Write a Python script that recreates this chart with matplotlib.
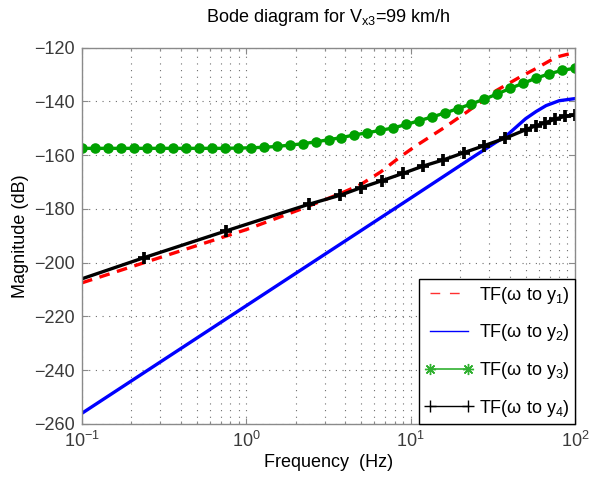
import matplotlib
matplotlib.use("Agg")
import matplotlib.pyplot as plt
from matplotlib.lines import Line2D
from matplotlib.ticker import LogLocator, NullFormatter

# -------------------------------------------------------------------
# DATA
# -------------------------------------------------------------------

# TF(w to y1), red dashed
f_y1 = [0.1, 1, 2.13, 3.74, 4.95, 6.56, 8.5, 10.5, 16, 22.1, 33, 45.9, 57.2, 76.7, 100]
mag_y1 = [-207.5, -187.7, -180.2, -174.3, -171.0, -166.3, -161.0, -157.0, -149.8,
          -143.9, -136.1, -131.1, -128.0, -123.6, -121.8]

# TF(w to y2), blue
f_y2 = [0.1, 1, 10, 25, 38.6, 50, 58, 66.7, 80, 100]
mag_y2 = [-256.0, -216.0, -176.0, -160.0, -152.6, -146.5, -143.8, -141.6, -139.8, -139.0]

# TF(w to y3), green with markers
f_y3 = [0.1, 0.1199, 0.1438, 0.1725, 0.2069, 0.2481, 0.2976, 0.3569, 0.4281, 0.5134,
        0.6158, 0.7386, 0.8859, 1.0624, 1.2743, 1.5283, 1.833, 2.1985, 2.6367, 3.1623,
        3.7927, 4.5489, 5.4556, 6.5432, 7.8476, 9.4122, 11.288, 13.539, 16.238, 19.475,
        23.357, 28.014, 33.598, 40.296, 48.329, 57.964, 69.519, 83.378, 100]
mag_y3 = [-157.5, -157.5, -157.5, -157.5, -157.5, -157.5, -157.5, -157.5, -157.5, -157.5,
          -157.5, -157.5, -157.4, -157.3, -157.1, -156.8, -156.3, -155.8, -155.1, -154.3,
          -153.5, -152.5, -151.7, -150.8, -149.9, -148.6, -147.2, -145.8, -144.3, -142.7,
          -141.0, -139.2, -137.3, -135.2, -133.3, -131.4, -129.8, -128.5, -127.7]

# TF(w to y4), black with + markers (first point has no marker)
f_y4 = [0.1, 0.237, 0.752, 2.4, 3.74, 5.0, 6.71, 8.98, 11.9, 15.8, 21.1, 28, 37.3,
        50, 57.6, 66, 75.8, 87, 100]
mag_y4 = [-206.0, -198.2, -188.2, -178.3, -174.9, -172.1, -169.5, -166.8, -164.1,
          -161.8, -159.1, -156.5, -153.8, -150.6, -149.1, -148.0, -146.6, -145.6, -145.1]

labels = ["TF(ω to y$_1$)", "TF(ω to y$_2$)", "TF(ω to y$_3$)", "TF(ω to y$_4$)"]

# -------------------------------------------------------------------
# STYLE
# -------------------------------------------------------------------

plt.rcParams["font.family"] = ["Liberation Sans", "DejaVu Sans"]
plt.rcParams["mathtext.fontset"] = "custom"
plt.rcParams["mathtext.rm"] = "Liberation Sans"
plt.rcParams["mathtext.it"] = "Liberation Sans:italic"
plt.rcParams["mathtext.default"] = "regular"
plt.rcParams["font.size"] = 13

AX_GRAY = "#8a8a8a"
TICK_TXT = "#3a3a3a"
GRID_GRAY = "#6e6e6e"

fig = plt.figure(figsize=(5.90, 4.79), dpi=100)
ax = fig.add_axes([82 / 590, 1 - 424 / 479, (575 - 82) / 590, (424 - 47.5) / 479])

ax.plot(f_y1, mag_y1, color="#ff0000", lw=2.4, dashes=(3.2, 2.3))
ax.plot(f_y2, mag_y2, color="#0000ff", lw=2.4)
ax.plot(f_y3, mag_y3, color="#00a000", lw=2.4, marker="o", ms=7.6, mew=0)
ax.plot(f_y4, mag_y4, color="black", lw=2.4, marker="+", ms=8.5, mew=2.7,
        markevery=list(range(1, len(f_y4))))

ax.set_xscale("log")
ax.set_xlim(0.1, 100)
ax.set_ylim(-260, -120)
ax.set_yticks(range(-260, -119, 20))
ax.xaxis.set_minor_locator(LogLocator(base=10, subs=range(2, 10)))
ax.xaxis.set_minor_formatter(NullFormatter())

ax.grid(True, which="major", axis="both", color=GRID_GRAY, lw=0.8, dashes=(1, 5))
ax.grid(True, which="minor", axis="x", color=GRID_GRAY, lw=0.8, dashes=(1, 5))

for s in ax.spines.values():
    s.set_color(AX_GRAY)
    s.set_linewidth(1.0)
ax.tick_params(which="both", direction="in", top=True, right=True,
               color=AX_GRAY, labelcolor=TICK_TXT, labelsize=13)
ax.tick_params(which="major", length=4.5, width=0.8, pad=5)
ax.tick_params(which="minor", length=2.5, width=0.8)

ax.set_xlabel("Frequency  (Hz)", fontsize=13, labelpad=2)
ax.set_ylabel("Magnitude (dB)", fontsize=13, labelpad=4)
ax.set_title("Bode diagram for V$_{x3}$=99 km/h", fontsize=13, pad=18)

# legend uses thin lines like the original
handles = [
    Line2D([], [], color="#ff3030", lw=1.0, dashes=(7, 7)),
    Line2D([], [], color="#0000ff", lw=1.0),
    Line2D([], [], color="#30b030", lw=1.2, marker=(8, 2, 0), ms=8, mew=1.0),
    Line2D([], [], color="black", lw=1.0, marker="+", ms=9, mew=1.0),
]
leg = ax.legend(handles, labels, loc="lower right", bbox_to_anchor=(1, 0),
                borderaxespad=0, numpoints=2, fancybox=False, framealpha=1,
                edgecolor="black", fontsize=13, handlelength=2.7,
                handletextpad=0.3, labelspacing=0.92, borderpad=0.3)
leg.get_frame().set_linewidth(1.0)

fig.savefig("out.png", dpi=100)
